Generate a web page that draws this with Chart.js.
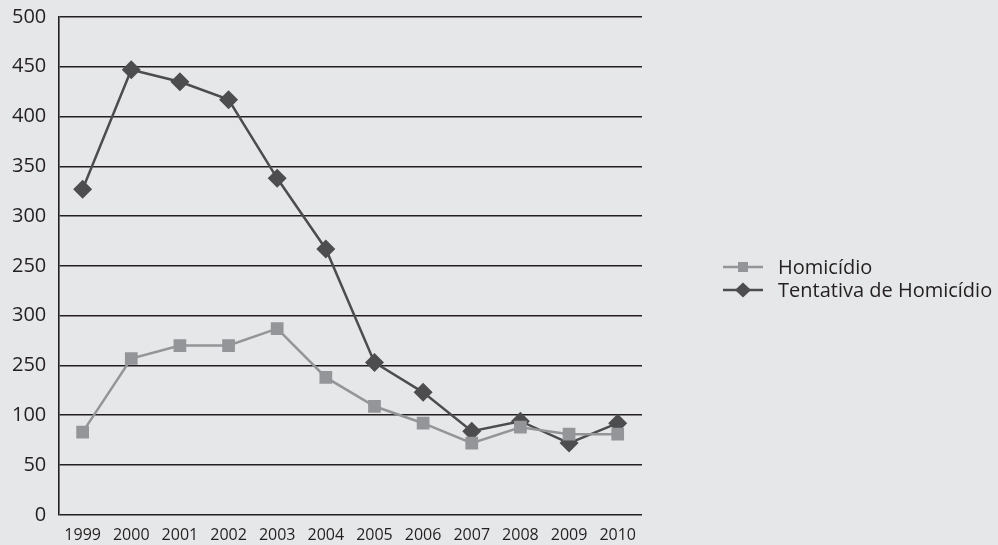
<!DOCTYPE html>
<html>
<head>
<meta charset="utf-8">
<title>Homicídio e Tentativa de Homicídio, 1999–2010</title>
<script src="https://cdn.jsdelivr.net/npm/chart.js@4/dist/chart.umd.min.js"></script>
<style>
  html, body { margin: 0; padding: 0; background: #e6e7e8; }
  #wrap { width: 998px; height: 545px; }
  canvas { display: block; }
</style>
</head>
<body>
<div id="wrap"><canvas id="chart" width="998" height="545"></canvas></div>
<script>
// Years on the horizontal axis
const years = ['1999', '2000', '2001', '2002', '2003', '2004', '2005', '2006', '2007', '2008', '2009', '2010'];

// Yearly counts per series
const homicidio = [83, 157, 170, 170, 187, 138, 109, 92, 72, 88, 81, 81];
const tentativa = [327, 447, 435, 417, 338, 267, 153, 123, 84, 94, 72, 92];

// Labels printed on the vertical axis, bottom to top
const yTickLabels = ['0', '50', '100', '250', '300', '250', '300', '350', '400', '450', '500'];

const seriesNames = ['Homicídio', 'Tentativa de Homicídio'];

const INK = '#231f20';
const LIGHT = '#939598';
const DARK = '#4d4d4f';

// Legend to the right of the plot: a short line with the series marker, then the name
const sideLegend = {
  id: 'sideLegend',
  afterDraw(chart, args, opts) {
    const ctx = chart.ctx;
    const x0 = opts.x, x1 = opts.x + opts.swatchWidth;
    const cx = (x0 + x1) / 2;
    ctx.save();
    ctx.font = opts.font;
    ctx.textBaseline = 'middle';
    ctx.textAlign = 'left';
    chart.data.datasets.forEach((ds, i) => {
      const y = opts.y + i * opts.rowHeight;
      ctx.strokeStyle = ds.borderColor;
      ctx.lineWidth = 2.5;
      ctx.beginPath();
      ctx.moveTo(x0, y); ctx.lineTo(x1, y);
      ctx.stroke();
      ctx.fillStyle = ds.borderColor;
      ctx.beginPath();
      if (ds.pointStyle === 'rect') {
        ctx.rect(cx - 5, y - 5, 10, 10);
      } else {
        ctx.moveTo(cx, y - 7.5); ctx.lineTo(cx + 8, y); ctx.lineTo(cx, y + 7.5); ctx.lineTo(cx - 8, y);
        ctx.closePath();
      }
      ctx.fill();
      ctx.fillStyle = INK;
      ctx.fillText(ds.label, opts.textX, y + 1);
    });
    ctx.restore();
  }
};

new Chart(document.getElementById('chart'), {
  type: 'line',
  data: {
    labels: years,
    datasets: [
      {
        label: seriesNames[0],
        data: homicidio,
        borderColor: LIGHT,
        backgroundColor: LIGHT,
        borderWidth: 2.5,
        pointStyle: 'rect',
        pointRadius: 9,
        pointBorderWidth: 0,
        tension: 0
      },
      {
        label: seriesNames[1],
        data: tentativa,
        borderColor: DARK,
        backgroundColor: DARK,
        borderWidth: 2.5,
        pointStyle: 'rectRot',
        pointRadius: 9.5,
        pointBorderWidth: 0,
        tension: 0
      }
    ]
  },
  options: {
    responsive: false,
    animation: false,
    devicePixelRatio: 1,
    layout: { padding: { top: 0, bottom: -11, left: 0, right: 356 } },
    scales: {
      x: {
        type: 'category',
        offset: true,
        grid: { display: false, drawTicks: false },
        border: { display: false },
        ticks: {
          autoSkip: false,
          maxRotation: 0,
          padding: 11,
          color: INK,
          font: { family: "'Open Sans'", size: 16 }
        }
      },
      y: {
        min: 0,
        max: 500,
        grid: { color: INK, lineWidth: 1.6, drawTicks: false },
        border: { display: true, color: INK, width: 1.6 },
        ticks: {
          stepSize: 50,
          padding: 12,
          color: INK,
          font: { family: "'Open Sans'", size: 20, lineHeight: 0.5 },
          callback: (value, index) => yTickLabels[index]
        }
      }
    },
    plugins: {
      tooltip: { enabled: false },
      legend: { display: false },
      sideLegend: {
        x: 723,
        y: 267,
        swatchWidth: 40,
        rowHeight: 23,
        textX: 778,
        font: "20px 'Open Sans'"
      }
    }
  },
  plugins: [sideLegend]
});
</script>
</body>
</html>
